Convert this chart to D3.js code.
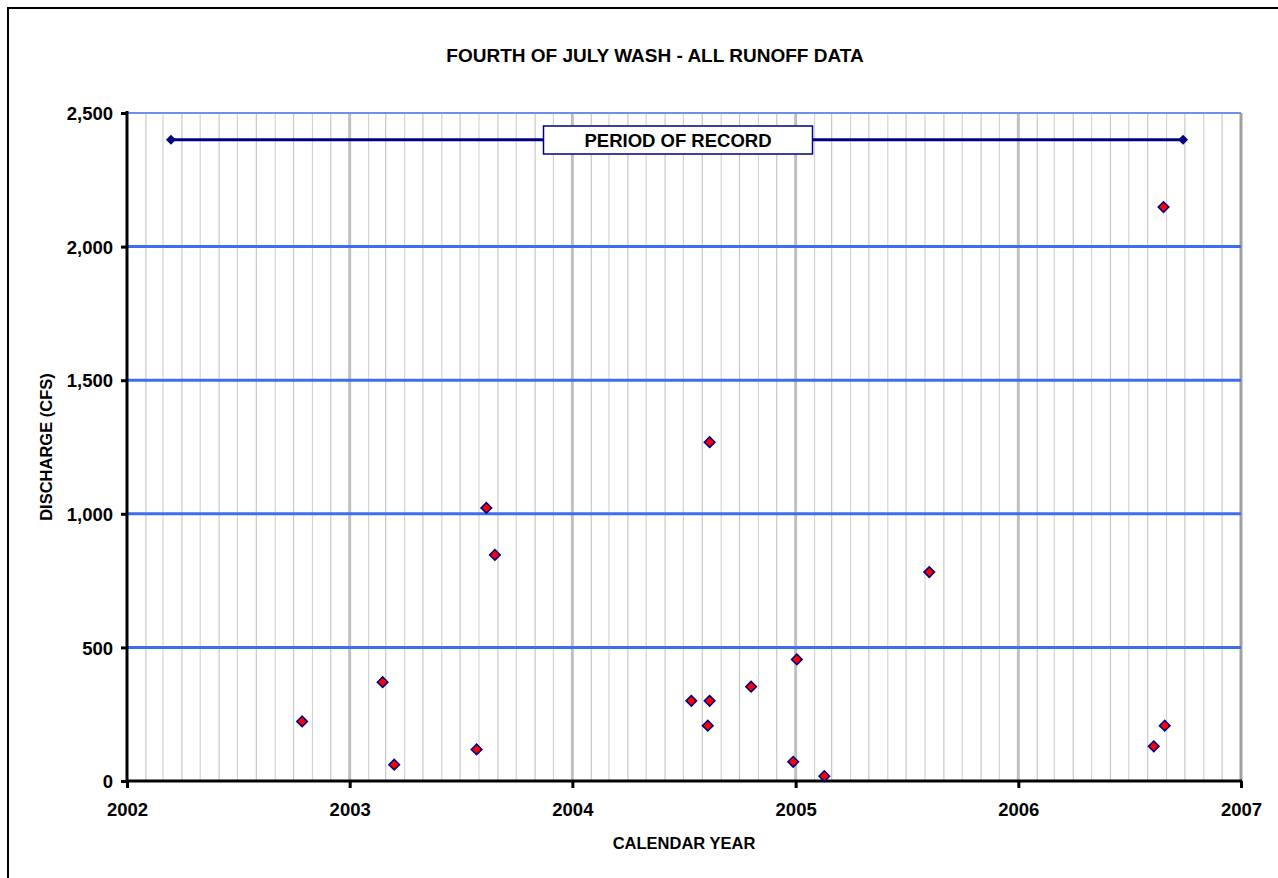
<!DOCTYPE html>
<html><head><meta charset="utf-8">
<script src="https://cdn.jsdelivr.net/npm/d3@7"></script>
<style>body{margin:0;background:#fff}svg{display:block;font-family:"Liberation Sans",Arial,sans-serif}</style>
</head><body><div id="chart"></div>
<script>
const title = "FOURTH OF JULY WASH - ALL RUNOFF DATA";
const xLabel = "CALENDAR YEAR";
const yLabel = "DISCHARGE (CFS)";
const legendLabel = "PERIOD OF RECORD";
const eventDates = ["2002-10-15","2003-02-24","2003-03-15","2003-07-28","2003-08-13","2003-08-27",
  "2004-07-14","2004-08-13","2004-08-10","2004-08-13","2004-10-20","2004-12-28","2005-01-03",
  "2005-02-17","2005-08-08","2006-08-11","2006-08-27","2006-08-29"];
const discharge = [223,370,61,118,1022,846,300,1268,207,300,353,72,455,18,782,130,2148,207];
const recordDates = ["2002-03-14","2006-09-28"];
const recordLevel = [2400,2400];
const yTicks = [0,500,1000,1500,2000,2500];
const xTicks = ["2002","2003","2004","2005","2006","2007"];

const W=1278,H=878, m={l:127,r:37,t:113,b:97};
const FF="Liberation Sans, Arial, sans-serif";
const svg=d3.select("#chart").append("svg").attr("width",W).attr("height",H);
const parse=d3.timeParse("%Y-%m-%d");
const x=d3.scaleTime().domain([new Date(2002,0,1),new Date(2007,0,1)]).range([m.l,W-m.r]);
const y=d3.scaleLinear().domain([0,2500]).range([H-m.b,m.t]);

svg.append("rect").attr("x",8).attr("y",8).attr("width",W+20).attr("height",H+20)
  .attr("fill","none").attr("stroke","#000").attr("stroke-width",2);

const x0=m.l, x1=W-m.r, y0=H-m.b, y1=m.t;
// monthly minor grid
const months=d3.timeMonth.range(new Date(2002,0,1),new Date(2007,0,1)).filter(d=>d.getMonth()!==0);
svg.append("g").selectAll("line").data(months).join("line")
  .attr("x1",d=>x(d)).attr("x2",d=>x(d)).attr("y1",y1).attr("y2",y0)
  .attr("stroke",(d,i)=>i%2?"#d4d4d4":"#c8c8c8").attr("stroke-width",1.2);
// yearly grid
const years=xTicks.map(t=>new Date(+t,0,1));
svg.append("g").selectAll("line").data(years.slice(1,-1)).join("line")
  .attr("x1",d=>x(d)).attr("x2",d=>x(d)).attr("y1",y1).attr("y2",y0)
  .attr("stroke","#c0c0c0").attr("stroke-width",3);
svg.append("line").attr("x1",x(years[5])).attr("x2",x(years[5])).attr("y1",y1).attr("y2",y0)
  .attr("stroke","#a0a0a0").attr("stroke-width",3);
// horizontal grid
svg.append("g").selectAll("line").data(yTicks.slice(1)).join("line")
  .attr("x1",x0).attr("x2",x1).attr("y1",d=>y(d)).attr("y2",d=>y(d))
  .attr("stroke",d=>d===2500?"#6f8ff0":"#3e6ef0").attr("stroke-width",d=>d===2500?2:3);

// axes
const yAxis=d3.axisLeft(y).tickValues(yTicks).tickSize(6).tickFormat(d3.format(","));
const gy=svg.append("g").attr("transform",`translate(${x0},0)`).call(yAxis);
gy.attr("font-size",null).attr("font-family",null);
gy.select(".domain").remove();
gy.selectAll(".tick line").attr("stroke","#000").attr("stroke-width",3);
gy.selectAll(".tick text").style("font-size","18.5px").style("font-weight","bold").style("font-family",FF).attr("x",-14).attr("dy","0.36em");
const xAxis=d3.axisBottom(x).tickValues(years).tickSize(7).tickFormat(d3.timeFormat("%Y"));
const gx=svg.append("g").attr("transform",`translate(0,${y0})`).call(xAxis);
gx.attr("font-size",null).attr("font-family",null);
gx.select(".domain").remove();
gx.selectAll(".tick line").attr("stroke","#000").attr("stroke-width",3);
gx.selectAll(".tick text").style("font-size","18.5px").style("font-weight","bold").style("font-family",FF).attr("y",22).attr("dy","0.71em");
svg.append("line").attr("x1",x0).attr("x2",x0).attr("y1",y1-2).attr("y2",y0+1.5).attr("stroke","#000").attr("stroke-width",3);
svg.append("line").attr("x1",x0-1.5).attr("x2",x1+1).attr("y1",y0).attr("y2",y0).attr("stroke","#000").attr("stroke-width",3);

// period of record
const rec=recordDates.map((d,i)=>({d:parse(d),v:recordLevel[i]}));
svg.append("path").datum(rec).attr("d",d3.line().x(d=>x(d.d)).y(d=>y(d.v)))
  .attr("stroke","#000080").attr("stroke-width",3).attr("fill","none");
svg.append("g").selectAll("path").data(rec).join("path")
  .attr("d",d3.symbol().type(d3.symbolSquare).size(50))
  .attr("transform",d=>`translate(${x(d.d)},${y(d.v)}) rotate(45)`)
  .attr("fill","#000080");
// legend box
const lx=543.5, lw=269, ly=126, lh=28;
svg.append("rect").attr("x",lx).attr("y",ly).attr("width",lw).attr("height",lh)
  .attr("fill","#fff").attr("stroke","#000080").attr("stroke-width",1.5);
svg.append("text").attr("x",lx+lw/2).attr("y",ly+lh/2).attr("dy","0.36em").attr("text-anchor","middle")
  .style("font-size","18.5px").style("font-weight","bold").text(legendLabel);

// data points
const pts=eventDates.map((d,i)=>({d:parse(d),v:discharge[i]}));
svg.append("g").selectAll("path").data(pts).join("path")
  .attr("d",d3.symbol().type(d3.symbolSquare).size(55))
  .attr("transform",d=>`translate(${x(d.d)},${y(d.v)}) rotate(45)`)
  .attr("fill","#ff0000").attr("stroke","#000080").attr("stroke-width",1.6);

// titles
svg.append("text").attr("x",655).attr("y",62).attr("text-anchor","middle").style("font-size","19px").style("font-weight","bold").text(title);
svg.append("text").attr("x",(x0+x1)/2).attr("y",849).attr("text-anchor","middle").style("font-size","16.5px").style("font-weight","bold").text(xLabel);
svg.append("text").attr("transform",`translate(52,${(y0+y1)/2}) rotate(-90)`).attr("text-anchor","middle").style("font-size","16.5px").style("font-weight","bold").text(yLabel);
</script></body></html>
